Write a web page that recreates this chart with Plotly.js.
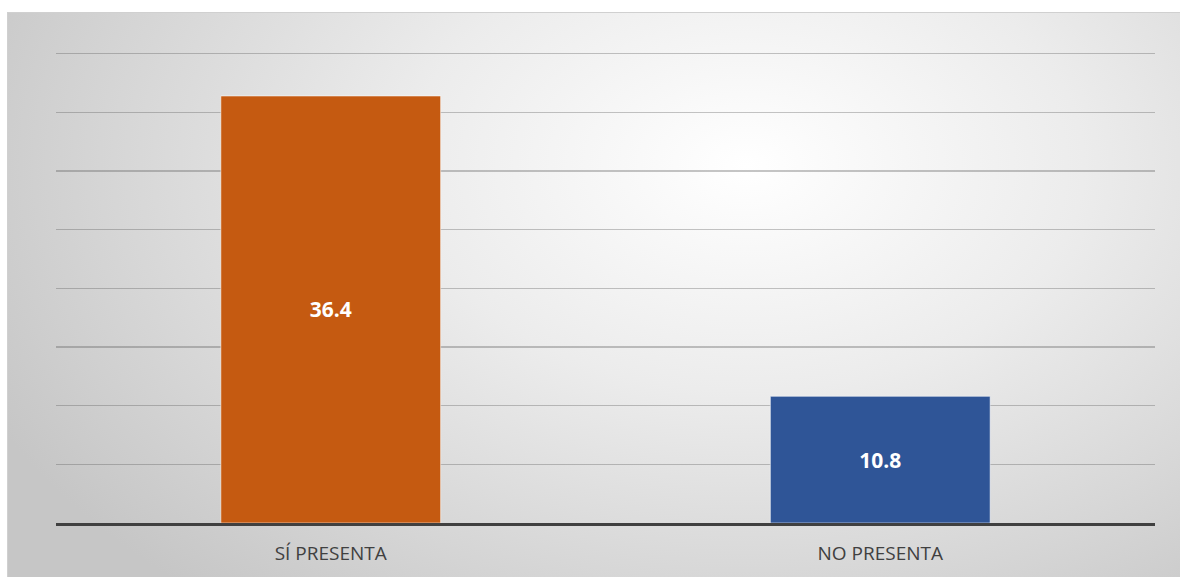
<!DOCTYPE html>
<html>
<head>
<meta charset="utf-8">
<script src="https://cdn.plot.ly/plotly-3.0.1.min.js"></script>
<style>
  html, body { margin: 0; padding: 0; width: 1180px; height: 577px; background: #ffffff; overflow: hidden; }
  #chart {
    position: absolute; left: 7px; top: 12px; width: 1173px; height: 565px;
    box-sizing: border-box;
    border-top: 1px solid #d0d0d0; border-left: 1px solid #d0d0d0;
    background: radial-gradient(ellipse 72% 100% at 63% 27%, #ffffff 0%, #ececec 40%, #d6d6d6 75%, #c6c6c6 100%);
  }
</style>
</head>
<body>
<div id="chart"></div>
<script>
const categories = ["SÍ PRESENTA", "NO PRESENTA"];
const values = [36.4, 10.8];
const barColors = ["#c55a11", "#2f5597"];
const valueLabels = values.map(v => v.toFixed(1));

const trace = {
  type: "bar",
  x: categories,
  y: values,
  text: valueLabels,
  textposition: "inside",
  insidetextanchor: "middle",
  textangle: 0,
  textfont: { family: "Open Sans, Liberation Sans, sans-serif", size: 21, color: "#ffffff", weight: "bold" },
  marker: { color: barColors, line: { color: "rgba(255,255,255,0.55)", width: 1 } },
  hoverinfo: "none",
  cliponaxis: false
};

const layout = {
  width: 1172, height: 564,
  margin: { l: 48, r: 25, t: 29, b: 54 },
  paper_bgcolor: "rgba(0,0,0,0)",
  plot_bgcolor: "rgba(0,0,0,0)",
  bargap: 0.6,
  showlegend: false,
  xaxis: {
    type: "category",
    showline: true, linecolor: "#404040", linewidth: 3,
    showgrid: false, zeroline: false,
    ticks: "", ticklabelstandoff: 11,
    tickfont: { family: "Open Sans, Liberation Sans, sans-serif", size: 19, color: "#404040" },
    fixedrange: true
  },
  yaxis: {
    range: [0, 41], dtick: 5, tick0: 0,
    showticklabels: false, ticks: "",
    showgrid: true, gridcolor: "rgba(90,90,90,0.35)", gridwidth: 1.5,
    zeroline: false, showline: false,
    fixedrange: true
  }
};

Plotly.newPlot("chart", [trace], layout, { displayModeBar: false, staticPlot: true });
</script>
</body>
</html>
